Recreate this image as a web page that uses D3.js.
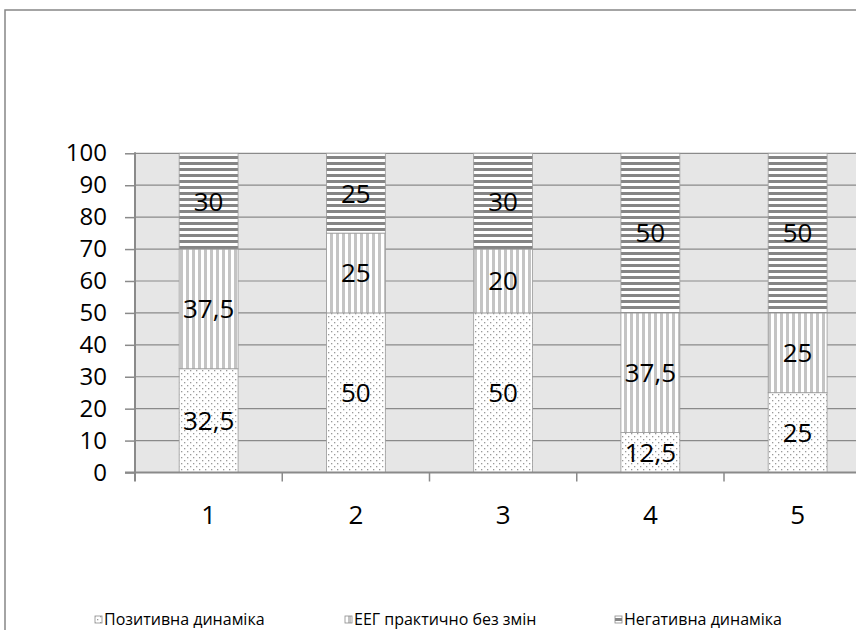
<!DOCTYPE html>
<html><head><meta charset="utf-8">
<script src="https://cdn.jsdelivr.net/npm/d3@7"></script>
<style>body{margin:0;background:#fff}svg{display:block}text{font-family:"Open Sans",sans-serif}</style>
</head><body><svg id="c" width="856" height="630"></svg>
<script>
const categories = ["1","2","3","4","5"];
const positive = [32.5, 50, 50, 12.5, 25];
const unchanged = [37.5, 25, 20, 37.5, 25];
const negative = [30, 25, 30, 50, 50];
const seriesNames = ["Позитивна динаміка","ЕЕГ практично без змін","Негативна динаміка"];
const yTicks = [0,10,20,30,40,50,60,70,80,90,100];
const labelFmt = v => String(v).replace(".", ",");

const svg = d3.select("#c");
const defs = svg.append("defs");
// dotted pattern
const p1 = defs.append("pattern").attr("id","pDots").attr("patternUnits","userSpaceOnUse").attr("width",6).attr("height",6);
p1.append("rect").attr("width",6).attr("height",6).attr("fill","#fff");
[[1,1],[4,4]].forEach(([px,py])=>p1.append("rect").attr("x",px).attr("y",py).attr("width",1.3).attr("height",1.3).attr("fill","#9a9a9a"));
// vertical stripes
const p2 = defs.append("pattern").attr("id","pVert").attr("patternUnits","userSpaceOnUse").attr("width",6).attr("height",6);
p2.append("rect").attr("width",6).attr("height",6).attr("fill","#fff");
p2.append("rect").attr("x",0).attr("width",3).attr("height",6).attr("fill","#c4c4c4");
// horizontal stripes
const p3 = defs.append("pattern").attr("id","pHor").attr("patternUnits","userSpaceOnUse").attr("width",6).attr("height",6);
p3.append("rect").attr("width",6).attr("height",6).attr("fill","#fff");
p3.append("rect").attr("y",0).attr("width",6).attr("height",3).attr("fill","#858585");
const fills = ["url(#pDots)","url(#pVert)","url(#pHor)"];

// outer frame
svg.append("rect").attr("x",5).attr("y",10).attr("width",1000).attr("height",1000)
  .attr("fill","#fff").attr("stroke","#878787").attr("stroke-width",1.5);

const pLeft = 135, pRight = 871.25, pTop = 153.3, pBottom = 472.5;
const x = d3.scaleBand().domain(categories).range([pLeft,pRight]).paddingInner(0.6).paddingOuter(0.3);
const xb = d3.scaleBand().domain(categories).range([pLeft,pRight]);
const y = d3.scaleLinear().domain([0,100]).range([pBottom,pTop]);

svg.append("rect").attr("x",pLeft).attr("y",pTop).attr("width",pRight-pLeft).attr("height",pBottom-pTop).attr("fill","#e6e6e6");

// gridlines
svg.append("g").selectAll("line").data(yTicks.filter(d=>d>0)).join("line")
  .attr("x1",pLeft).attr("x2",pRight).attr("y1",d=>y(d)).attr("y2",d=>y(d))
  .attr("stroke","#8a8a8a").attr("stroke-width",1.2);

// stack
const table = categories.map((c,i)=>({cat:c, s0:positive[i], s1:unchanged[i], s2:negative[i]}));
const stack = d3.stack().keys(["s0","s1","s2"])(table);
const gBars = svg.append("g");
stack.forEach((layer,li)=>{
  gBars.selectAll(null).data(layer).join("rect")
    .attr("x",d=>x(d.data.cat)).attr("width",x.bandwidth())
    .attr("y",d=>y(d[1])).attr("height",d=>y(d[0])-y(d[1]))
    .attr("fill",fills[li]).attr("stroke","#9a9a9a").attr("stroke-width",0.8);
});
stack.forEach((layer,li)=>{
  gBars.selectAll(null).data(layer).join("text")
    .attr("x",d=>x(d.data.cat)+x.bandwidth()/2).attr("y",d=>y((d[0]+d[1])/2))
    .attr("dy","0.36em").attr("text-anchor","middle").attr("font-size",26).attr("fill","#000")
    .text(d=>labelFmt(d[1]-d[0]));
});

// y axis
const yAxis = d3.axisLeft(y).tickValues(yTicks).tickSize(10).tickPadding(18);
const gy = svg.append("g").attr("transform",`translate(${pLeft},0)`).call(yAxis);
gy.select(".domain").remove();
gy.selectAll(".tick line").attr("stroke","#8a8a8a").attr("stroke-width",1.5);
gy.selectAll(".tick text").attr("font-size",24).attr("font-family","Open Sans").attr("fill","#000");
svg.append("line").attr("x1",pLeft).attr("x2",pLeft).attr("y1",pTop-1).attr("y2",pBottom+9).attr("stroke","#8a8a8a").attr("stroke-width",2);

// x axis
svg.append("line").attr("x1",pLeft-10).attr("x2",pRight).attr("y1",pBottom).attr("y2",pBottom).attr("stroke","#8a8a8a").attr("stroke-width",2);
svg.append("g").selectAll("line").data(categories.slice(1)).join("line")
  .attr("x1",d=>xb(d)).attr("x2",d=>xb(d)).attr("y1",pBottom).attr("y2",pBottom+9)
  .attr("stroke","#8a8a8a").attr("stroke-width",1.5);
svg.append("g").selectAll("text").data(categories).join("text")
  .attr("x",d=>xb(d)+xb.bandwidth()/2).attr("y",515).attr("dy","0.36em")
  .attr("text-anchor","middle").attr("font-size",26).attr("fill","#000").text(d=>d);

// legend
const legX = [95, 345, 615];
const lg = svg.append("g");
seriesNames.forEach((n,i)=>{
  lg.append("rect").attr("x",legX[i]).attr("y",616).attr("width",7).attr("height",7)
    .attr("fill",fills[i]).attr("stroke","#8a8a8a").attr("stroke-width",0.8);
  lg.append("text").attr("x",legX[i]+9).attr("y",619.5).attr("dy","0.36em")
    .attr("font-size",16).attr("fill","#000").text(n);
});
</script></body></html>
